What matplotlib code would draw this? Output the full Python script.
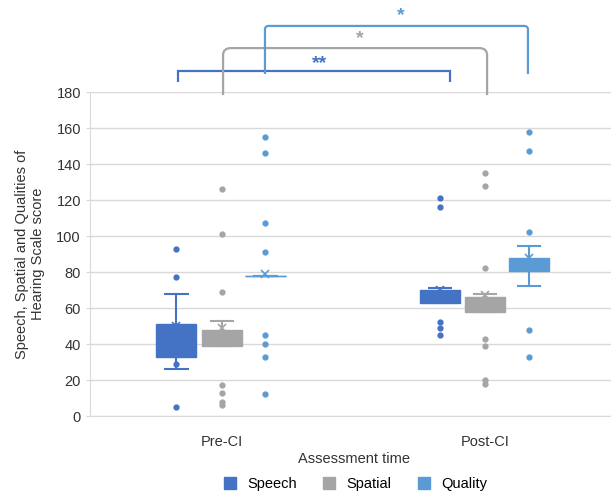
import matplotlib.pyplot as plt
from matplotlib.lines import Line2D
from matplotlib.path import Path
from matplotlib.patches import PathPatch

plt.rcParams['font.family'] = ['Liberation Sans', 'DejaVu Sans']

times = ["Pre-CI", "Post-CI"]
scales = ["Speech", "Spatial", "Quality"]
colors = ["#4472C4", "#A5A5A5", "#5B9BD5"]

# box summaries: [Pre-CI, Post-CI] per scale
q1 = {"Speech": [33, 63], "Spatial": [39, 58], "Quality": [78, 80.5]}
med = {"Speech": [40, 66], "Spatial": [44, 62], "Quality": [78, 84]}
q3 = {"Speech": [51, 70], "Spatial": [48, 66], "Quality": [78, 88]}
whislo = {"Speech": [26, 63], "Spatial": [39, 58], "Quality": [78, 72]}
whishi = {"Speech": [68, 71], "Spatial": [53, 68], "Quality": [78, 94.5]}
means = {"Speech": [50, 70], "Spatial": [49, 67], "Quality": [79, 88]}
outliers = {
    "Speech": [[93, 77, 29, 5], [121, 116, 52, 49, 45]],
    "Spatial": [[126, 101, 69, 17, 13, 8, 6], [135, 128, 82, 43, 39, 20, 18]],
    "Quality": [[155, 146, 107, 91, 45, 40, 33, 12], [158, 147, 102, 48, 33]],
}

offsets = [-0.172, 0.0, 0.166]
box_w = 0.152

fig = plt.figure(figsize=(6.11, 4.99), dpi=100)
ax = fig.add_axes([90 / 611, 83 / 499, 527 / 611, 324 / 499])

for s, c, off in zip(scales, colors, offsets):
    stats = []
    for i in range(2):
        stats.append(dict(q1=q1[s][i], med=med[s][i], q3=q3[s][i],
                          whislo=whislo[s][i], whishi=whishi[s][i],
                          mean=means[s][i], fliers=outliers[s][i]))
    ax.bxp(stats, positions=[1 + off, 2 + off], widths=box_w, capwidths=0.085,
           patch_artist=True, showmeans=True, manage_ticks=False,
           boxprops=dict(facecolor=c, edgecolor=c, linewidth=1),
           medianprops=dict(color=c, linewidth=1),
           whiskerprops=dict(color=c, linewidth=1.5),
           capprops=dict(color=c, linewidth=1.5),
           meanprops=dict(marker="x", markeredgecolor=c, markersize=6, markeredgewidth=1.2),
           flierprops=dict(marker="o", markerfacecolor=c, markeredgecolor=c, markersize=3.5))

ax.set_xlim(0.5, 2.5)
ax.set_ylim(0, 180)
ax.set_yticks(range(0, 181, 20))
ax.set_xticks([1, 2])
ax.set_xticklabels(times, fontsize=10.5, color="#333333")
ax.tick_params(axis="y", labelsize=10.5, labelcolor="#333333", length=3, color="#D9D9D9")
ax.tick_params(axis="x", length=0, pad=14)
ax.yaxis.grid(True, color="#D9D9D9", linewidth=1)
ax.set_axisbelow(True)
for side in ["top", "right"]:
    ax.spines[side].set_visible(False)
ax.spines["left"].set_color("#D9D9D9")
ax.spines["bottom"].set_color("#D9D9D9")
ax.set_xlabel("Assessment time", fontsize=10.5, color="#333333", labelpad=2)
ax.set_ylabel("Speech, Spatial and Qualities of\nHearing Scale score", fontsize=10.5,
              color="#333333", labelpad=8, multialignment="center")


def bracket(x0, x1, ytop, yend0, yend1, color, r=0.0):
    if r > 0:
        verts = [(x0, yend0), (x0, ytop - r * 130), (x0, ytop), (x0 + r, ytop),
                 (x1 - r, ytop), (x1, ytop), (x1, ytop - r * 130), (x1, yend1)]
        codes = [Path.MOVETO, Path.LINETO, Path.CURVE3, Path.CURVE3,
                 Path.LINETO, Path.CURVE3, Path.CURVE3, Path.LINETO]
    else:
        verts = [(x0, yend0), (x0, ytop), (x1, ytop), (x1, yend1)]
        codes = [Path.MOVETO, Path.LINETO, Path.LINETO, Path.LINETO]
    ax.add_patch(PathPatch(Path(verts, codes), fill=False, edgecolor=color,
                           linewidth=1.6, clip_on=False))


bracket(0.834, 1.866, 191.7, 185.6, 185.6, colors[0])
bracket(1.005, 2.007, 204.4, 178.3, 178.3, colors[1], r=0.03)
bracket(1.164, 2.162, 216.7, 190, 190, colors[2], r=0.015)

ax.text(1.37, 196, "**", color=colors[0], fontsize=14, fontweight="bold",
        ha="center", va="center", clip_on=False)
ax.text(1.522, 209.5, "*", color=colors[1], fontsize=14, fontweight="bold",
        ha="center", va="center", clip_on=False)
ax.text(1.678, 222.3, "*", color=colors[2], fontsize=14, fontweight="bold",
        ha="center", va="center", clip_on=False)

handles = [Line2D([], [], marker="s", linestyle="none", markersize=8,
                  markerfacecolor=c, markeredgecolor=c) for c in colors]
fig.legend(handles, scales, loc="lower center", bbox_to_anchor=(0.575, -0.01), ncol=3,
           frameon=False, fontsize=10.5, handletextpad=0.2, columnspacing=1.2)

fig.savefig("out.png", dpi=100)
